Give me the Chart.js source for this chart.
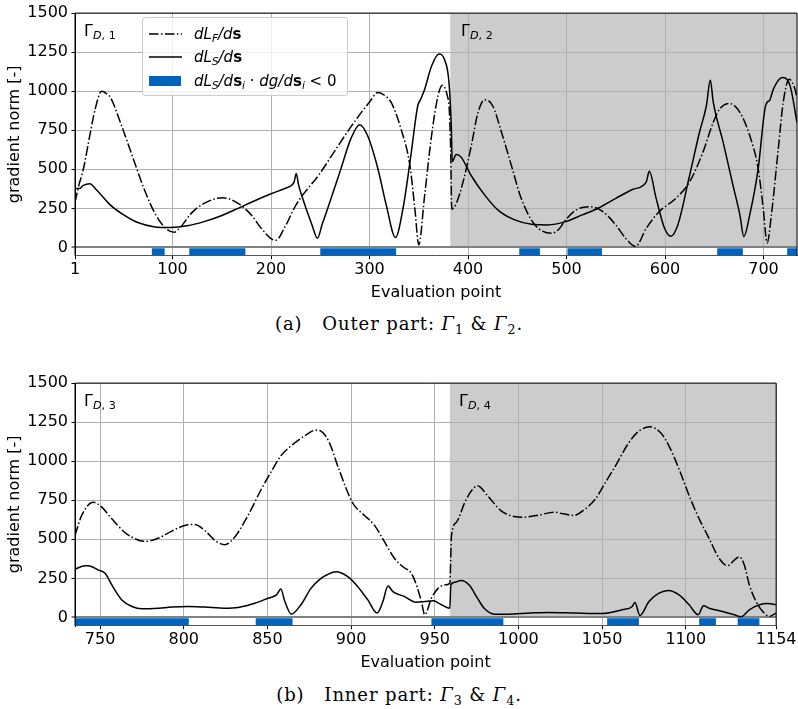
<!DOCTYPE html>
<html>
<head>
<meta charset="utf-8">
<script src="https://cdn.jsdelivr.net/npm/chart.js@4.4.1/dist/chart.umd.min.js"></script>
<style>
  body { margin: 0; background: #fff; }
  #page { position: relative; width: 798px; height: 709px; overflow: hidden; font-family: "DejaVu Sans", sans-serif; }
  .wrap { position: absolute; left: 0; width: 798px; height: 310px; }
  .legend { position: absolute; left: 142px; top: 17px; width: 204px; height: 77px; border: 1px solid #cccccc; border-radius: 3px; background: rgba(255,255,255,0.8); }
  .row { position: absolute; left: 0; height: 20px; width: 204px; }
  .row svg { position: absolute; left: 6px; top: 0; }
  .row .txt { position: absolute; left: 51px; top: 0; line-height: 20px; font-size: 15px; white-space: nowrap; color: #000; }
  sub { font-size: 70%; vertical-align: -0.28em; line-height: 0; }
  .gam { position: absolute; font-size: 16px; color: #000; line-height: 18px; white-space: nowrap; }
  .cap { position: absolute; left: 0; width: 798px; text-align: center; font-family: "DejaVu Serif", serif; font-size: 18px; letter-spacing: 0.9px; line-height: 20px; color: #000; }
</style>
</head>
<body>
<div id="page">
  <div class="wrap" style="top:0"><canvas id="outerChart" width="798" height="310"></canvas></div>
  <div class="wrap" style="top:370px"><canvas id="innerChart" width="798" height="310"></canvas></div>

  <div class="legend">
    <div class="row" style="top:6px">
      <svg width="34" height="20"><line x1="0" y1="10" x2="33" y2="10" stroke="#000" stroke-width="1.5" stroke-dasharray="9.6 2.4 1.5 2.4"/></svg>
      <span class="txt"><i>dL</i><sub><i>F</i></sub><i>/d</i><b>s</b></span>
    </div>
    <div class="row" style="top:29px">
      <svg width="34" height="20"><line x1="0" y1="10" x2="33" y2="10" stroke="#000" stroke-width="1.5"/></svg>
      <span class="txt"><i>dL</i><sub><i>S</i></sub><i>/d</i><b>s</b></span>
    </div>
    <div class="row" style="top:53px">
      <svg width="34" height="20"><rect x="0" y="5" width="32" height="10" fill="#0063be"/></svg>
      <span class="txt"><i>dL</i><sub><i>S</i></sub><i>/d</i><b>s</b><sub><i>i</i></sub> &middot; <i>dg/d</i><b>s</b><sub><i>i</i></sub> &lt; 0</span>
    </div>
  </div>

  <div class="gam" style="left:84px; top:22px">Γ<sub><i>D</i>, 1</sub></div>
  <div class="gam" style="left:461px; top:22px">Γ<sub><i>D</i>, 2</sub></div>
  <div class="gam" style="left:84px; top:392px">Γ<sub><i>D</i>, 3</sub></div>
  <div class="gam" style="left:459px; top:392px">Γ<sub><i>D</i>, 4</sub></div>

  <div class="cap" style="top:314px">(a)&nbsp;&nbsp;&nbsp;Outer part: <i>Γ</i><sub>1</sub> &amp; <i>Γ</i><sub>2</sub>.</div>
  <div class="cap" style="top:685px">(b)&nbsp;&nbsp;&nbsp;Inner part: <i>Γ</i><sub>3</sub> &amp; <i>Γ</i><sub>4</sub>.</div>
</div>

<script>
const yTicks = [0, 250, 500, 750, 1000, 1250, 1500];
const xTicksOuter = [1, 100, 200, 300, 400, 500, 600, 700];
const xTicksInner = [750, 800, 850, 900, 950, 1000, 1050, 1100, 1154];

// outer part (Gamma 1 & 2)
const outerFx = [1, 5, 9.6, 16, 21.5, 28, 33, 37, 47, 59, 71, 83, 93, 101.7, 108.5, 119, 132, 151, 166.5, 180, 190, 202, 205, 214, 226, 249, 265, 280, 300, 308.5, 316, 322, 332, 341, 346, 350, 356, 363, 369.5, 374, 379, 381, 382.5, 383.5, 388, 395, 403, 410, 417, 425, 434, 444, 454, 468, 485, 492, 499, 509.5, 523, 537, 550, 560, 570, 581, 594, 611, 625, 638.5, 649, 655.5, 665, 676, 686, 694.6, 699.7, 703.7, 708, 715, 720, 726, 732, 734];
const outerF = [290, 400, 504, 716, 886, 1000, 985, 960, 801, 589, 377, 208, 123, 97, 133, 218, 282, 318, 282, 208, 123, 49, 46, 130, 279, 468, 620, 762, 931, 991, 970, 928, 758, 525, 250, 17, 335, 716, 970, 1038, 970, 880, 600, 245, 280, 420, 640, 860, 945, 907, 737, 525, 314, 144, 91, 115, 175, 239, 261, 229, 144, 59, 6, 123, 229, 314, 420, 610, 801, 886, 922, 865, 716, 504, 250, 28, 208, 631, 928, 1076, 1013, 960];
const outerSx = [1, 6, 9, 16, 23, 37, 50.5, 64, 81, 98, 115, 132, 149.5, 166.5, 183.5, 200.7, 214, 221, 223.5, 225.6, 228, 231, 241.6, 247.2, 252, 257.6, 271, 281, 290, 298, 308.5, 317, 326.4, 334, 342, 349, 352, 356, 363, 370.5, 376, 380.7, 383, 384, 388, 393, 403, 417, 430.5, 447.5, 464.5, 481, 499, 516, 533, 550, 567, 581, 584, 591, 599.5, 606, 613, 625, 635, 642, 646, 649, 659, 669, 676, 680, 686, 694.6, 701.4, 704, 706, 710, 719, 727, 734];
const outerS = [377, 378, 395, 408, 367, 271, 208, 161, 133, 127, 138, 165, 203, 250, 299, 345, 377, 398, 420, 473, 400, 335, 144, 59, 150, 250, 504, 695, 786, 716, 504, 271, 64, 250, 589, 907, 949, 1013, 1161, 1238, 1204, 1055, 780, 550, 595, 578, 462, 335, 239, 176, 148, 144, 165, 208, 254, 314, 371, 420, 487, 314, 123, 72, 144, 462, 737, 907, 1072, 928, 674, 398, 208, 70, 208, 504, 886, 932, 939, 1013, 1087, 1034, 800];
const outerNeg = [[79, 92], [117, 174], [250, 327], [452, 473], [501, 536], [653, 679], [724, 734]];
const outerShade = [382, 734];

// inner part (Gamma 3 & 4)
const innerFx = [735, 739, 746, 751, 757, 765, 773, 777, 785, 792.6, 800.6, 806.6, 812.5, 818.5, 824.5, 830.5, 838.4, 846.4, 852, 858, 864, 872, 879, 882, 887, 892, 899, 902, 908, 914, 920, 926, 931, 936, 939, 942, 944, 948, 952, 956, 959, 960, 963, 968, 972, 975.6, 981.5, 989.5, 997.4, 1003.4, 1013, 1021, 1027, 1033, 1040, 1046, 1052, 1058, 1066, 1072, 1078.6, 1085, 1090, 1096, 1102, 1108, 1114, 1120, 1125, 1129, 1132, 1135, 1138, 1142, 1146, 1150, 1154];
const innerF = [525, 653, 737, 706, 631, 542, 494, 487, 508, 551, 589, 595, 557, 494, 466, 515, 653, 822, 928, 1034, 1097, 1161, 1199, 1193, 1119, 970, 775, 716, 653, 589, 483, 377, 324, 282, 208, 102, 17, 123, 186, 208, 218, 525, 610, 737, 812, 843, 780, 684, 646, 642, 657, 674, 663, 653, 695, 758, 864, 970, 1119, 1193, 1220, 1182, 1097, 949, 780, 631, 504, 377, 331, 367, 388, 335, 208, 102, 38, 6, 28];
const innerSx = [735, 741, 743, 749, 753, 757, 763, 769, 775, 785, 792.6, 802.6, 812.5, 824.5, 832.5, 842.4, 850.4, 855.4, 858, 860.4, 864.3, 870, 876, 882, 886, 891, 898, 904, 910, 915.5, 919, 922, 925, 932, 939, 944, 949, 954, 959, 959.6, 962, 965.6, 970.6, 975.5, 979.5, 985.6, 993.4, 1007, 1018, 1034, 1050, 1062, 1068, 1069.6, 1072.6, 1078, 1084, 1089.6, 1096, 1102, 1107.4, 1110.6, 1114, 1122, 1129, 1133, 1138, 1144, 1149, 1154];
const innerS = [309, 331, 331, 303, 282, 208, 112, 70, 55, 59, 66, 70, 66, 59, 64, 91, 123, 144, 182, 102, 21, 81, 186, 250, 275, 292, 261, 197, 112, 28, 102, 201, 165, 133, 97, 102, 106, 81, 59, 208, 225, 237, 208, 123, 59, 21, 21, 28, 32, 28, 25, 49, 70, 95, 13, 102, 155, 172, 144, 81, 17, 74, 59, 38, 17, 4, 49, 81, 89, 81];
const innerNeg = [[735, 803], [843, 865], [948, 991], [1053, 1072], [1108, 1118], [1131, 1144]];
const innerShade = [959, 1154];

const negLevel = -29;

function pts(xs, ys) {
    return xs.map((x, i) => ({ x: x, y: ys[i] }));
}

function negPts(ranges) {
    const out = [];
    ranges.forEach(r => {
        out.push({ x: r[0], y: negLevel });
        out.push({ x: r[1], y: negLevel });
        out.push({ x: r[1], y: null });
    });
    return out;
}

// grey background behind the second boundary, drawn before the grid
const shadePlugin = {
    id: 'shade',
    beforeDraw(chart, args, opts) {
        const { ctx, scales: { x, y } } = chart;
        const x0 = x.getPixelForValue(opts.range[0]);
        const x1 = x.getPixelForValue(opts.range[1]);
        const y0 = y.getPixelForValue(yTicks[yTicks.length - 1]);
        const y1 = y.getPixelForValue(0);
        ctx.save();
        ctx.fillStyle = '#cccccc';
        ctx.fillRect(x0, y0, x1 - x0, y1 - y0);
        ctx.restore();
    }
};

const framePlugin = {
    id: 'frame',
    afterDraw(chart) {
        const { ctx, chartArea: a } = chart;
        ctx.save();
        ctx.strokeStyle = '#000';
        ctx.lineWidth = 1;
        ctx.beginPath();
        ctx.moveTo(a.left, a.bottom);
        ctx.lineTo(a.left, a.top);
        ctx.lineTo(a.right, a.top);
        ctx.lineTo(a.right, a.bottom);
        ctx.stroke();
        ctx.restore();
    }
};

const tickFont = { family: 'DejaVu Sans', size: 16 };

function makeChart(id, xMin, xMax, xTicks, fx, fy, sx, sy, neg, shade, padRight) {
    const ctx = document.getElementById(id).getContext('2d');
    return new Chart(ctx, {
        type: 'line',
        data: {
            datasets: [
                {
                    label: 'dLF/ds',
                    data: pts(fx, fy),
                    borderColor: '#000',
                    borderWidth: 1.5,
                    borderDash: [9.6, 2.4, 1.5, 2.4],
                    pointRadius: 0,
                    cubicInterpolationMode: 'monotone',
                    fill: false,
                },
                {
                    label: 'dLS/ds',
                    data: pts(sx, sy),
                    borderColor: '#000',
                    borderWidth: 1.5,
                    pointRadius: 0,
                    cubicInterpolationMode: 'monotone',
                    fill: false,
                },
                {
                    label: 'negative',
                    data: negPts(neg),
                    borderColor: '#0063be',
                    borderWidth: 7.4,
                    borderCapStyle: 'butt',
                    pointRadius: 0,
                    tension: 0,
                    spanGaps: false,
                    fill: false,
                },
            ],
        },
        options: {
            responsive: false,
            animation: false,
            events: [],
            layout: { padding: { top: 10, right: padRight, left: 0, bottom: 0 } },
            plugins: {
                legend: { display: false },
                tooltip: { enabled: false },
                shade: { range: shade },
            },
            scales: {
                x: {
                    type: 'linear',
                    min: xMin,
                    max: xMax,
                    afterBuildTicks: s => { s.ticks = xTicks.map(v => ({ value: v })); },
                    afterFit: s => { s.height = 54.3; },
                    ticks: { autoSkip: false, maxRotation: 0, padding: 1.5, color: '#000', font: tickFont, callback: v => String(v) },
                    grid: { color: '#b0b0b0', lineWidth: 1, tickLength: 3.5, tickColor: '#000', tickWidth: 1 },
                    border: { color: '#555', width: 1 },
                    title: { display: true, text: 'Evaluation point', color: '#000', font: tickFont, padding: { top: 0, bottom: 8 } },
                },
                y: {
                    min: -53,
                    max: 1500,
                    afterBuildTicks: s => { s.ticks = yTicks.map(v => ({ value: v })); },
                    afterFit: s => { s.width = 75; },
                    ticks: { padding: 3.5, color: '#000', font: tickFont, callback: v => String(v) },
                    grid: {
                        color: c => (c.tick && c.tick.value === 0 ? '#808080' : '#b0b0b0'),
                        lineWidth: c => (c.tick && c.tick.value === 0 ? 2 : 1),
                        tickLength: 3.5,
                        tickColor: '#000',
                        tickWidth: 1,
                    },
                    border: { color: '#000', width: 1 },
                    title: { display: true, text: 'gradient norm [-]', color: '#000', font: tickFont, padding: { top: 5, bottom: 0 } },
                },
            },
        },
        plugins: [shadePlugin, framePlugin],
    });
}

const outerChart = makeChart('outerChart', 1, 734, xTicksOuter, outerFx, outerF, outerSx, outerS, outerNeg, outerShade, 1);
const innerChart = makeChart('innerChart', 735, 1154, xTicksInner, innerFx, innerF, innerSx, innerS, innerNeg, innerShade, 20.5);
</script>
</body>
</html>
